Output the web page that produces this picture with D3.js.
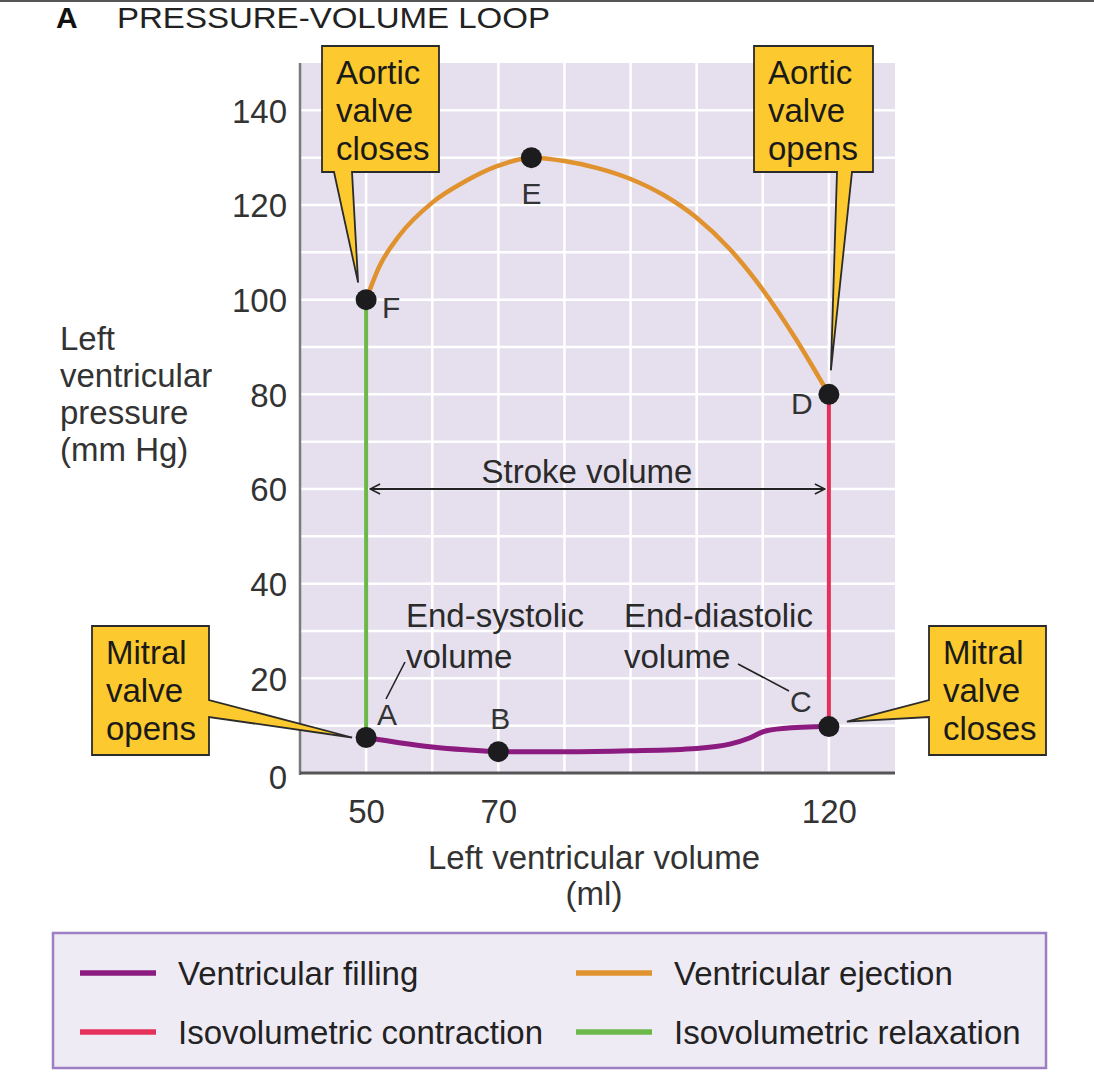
<!DOCTYPE html>
<html>
<head>
<meta charset="utf-8">
<script src="https://cdn.jsdelivr.net/npm/d3@7"></script>
<style>
  body { margin: 0; background: #fff; }
  text { font-family: "Liberation Sans", Arial, sans-serif; fill: #2a2a2a; }
</style>
</head>
<body>
<svg width="1094" height="1086"></svg>
<script>
// volume (ml) / pressure (mm Hg)
var fillingVol   = [50, 55, 60, 65, 70, 80, 90, 100, 105, 108, 110, 113, 120];
var fillingPres  = [7.5, 6.4, 5.5, 4.9, 4.5, 4.5, 4.7, 5.2, 6.1, 7.4, 8.7, 9.4, 9.8];
var ejectionVol  = [50, 52, 55, 60, 65, 70, 75, 80, 85, 90, 95, 100, 105, 110, 115, 120];
var ejectionPres = [100, 107, 113.5, 120.5, 125, 128.3, 130, 129.3, 127.8, 125.5, 122.1, 117.3, 110.7, 102.1, 91.7, 80];
var contractionVol  = [120, 120];
var contractionPres = [9.8, 80];
var relaxationVol   = [50, 50];
var relaxationPres  = [100, 7.5];

var pointNames = ["A", "B", "C", "D", "E", "F"];
var pointVol   = [50, 70, 120, 120, 75, 50];
var pointPres  = [7.5, 4.5, 9.8, 80, 130, 100];

var xTicks = [50, 70, 120];
var yTicks = [0, 20, 40, 60, 80, 100, 120, 140];
var xGrid = [50, 60, 70, 80, 90, 100, 110, 120];
var yGrid = [10, 20, 30, 40, 50, 60, 70, 80, 90, 100, 110, 120, 130, 140];

var strokeVolume = [50, 120];
var strokeVolumeLevel = 60;

var legendLabels = ["Ventricular filling", "Ventricular ejection", "Isovolumetric contraction", "Isovolumetric relaxation"];
var colors = {filling: "#8c1b80", ejection: "#e0922e", contraction: "#e5305a", relaxation: "#6cb84a"};

var FS = 33;
var svg = d3.select("svg");

var x = d3.scaleLinear().domain([40, 130]).range([300, 895]);
var y = d3.scaleLinear().domain([0, 150]).range([773, 63]);

// top rule and title
svg.append("line").attr("x1", 0).attr("x2", 1094).attr("y1", 1).attr("y2", 1)
    .attr("stroke", "#555").attr("stroke-width", 2);
svg.append("text").attr("x", 56).attr("y", 28).attr("font-size", 30).attr("font-weight", "bold")
    .style("fill", "#111").text("A");
svg.append("text").attr("x", 117).attr("y", 28).attr("font-size", 30)
    .attr("textLength", 433).attr("lengthAdjust", "spacingAndGlyphs")
    .style("fill", "#222").text("PRESSURE-VOLUME LOOP");

// plot background + grid
svg.append("rect").attr("x", x(40)).attr("y", y(150)).attr("width", x(130) - x(40))
    .attr("height", y(0) - y(150)).attr("fill", "#e6e0ee");

svg.selectAll(".gx").data(xGrid).enter().append("line")
    .attr("x1", d => x(d)).attr("x2", d => x(d)).attr("y1", y(150)).attr("y2", y(0))
    .attr("stroke", "#fff").attr("stroke-width", 2.5);
svg.selectAll(".gy").data(yGrid).enter().append("line")
    .attr("x1", x(40)).attr("x2", x(130)).attr("y1", d => y(d)).attr("y2", d => y(d))
    .attr("stroke", "#fff").attr("stroke-width", 2.5);

// axes
var yAxis = svg.append("g").attr("transform", "translate(" + x(40) + ",0)")
    .call(d3.axisLeft(y).tickValues(yTicks).tickSize(0).tickPadding(13));
yAxis.select(".domain").attr("stroke", "#7a7a7a").attr("stroke-width", 2.5)
    .attr("d", "M0," + y(150) + "V" + (y(0) + 2));
yAxis.selectAll("text").attr("font-size", FS).attr("font-family", "Liberation Sans, Arial")
    .style("fill", "#333").attr("dy", "0.36em");
yAxis.selectAll(".tick").filter(d => d === 0).select("text").attr("dy", "0.48em");

var xAxis = svg.append("g").attr("transform", "translate(0," + y(0) + ")")
    .call(d3.axisBottom(x).tickValues(xTicks).tickSize(0).tickPadding(27));
xAxis.select(".domain").attr("stroke", "#555").attr("stroke-width", 3)
    .attr("d", "M" + x(40) + ",0H" + x(130));
xAxis.selectAll("text").attr("font-size", FS).attr("font-family", "Liberation Sans, Arial")
    .style("fill", "#333");

// axis titles
var yTitle = ["Left", "ventricular", "pressure", "(mm Hg)"];
svg.selectAll(".ytitle").data(yTitle).enter().append("text")
    .attr("x", 60).attr("y", (d, i) => 350 + i * 37).attr("font-size", FS)
    .style("fill", "#333").text(d => d);
svg.append("text").attr("x", 594).attr("y", 869).attr("text-anchor", "middle")
    .attr("font-size", FS).style("fill", "#333").text("Left ventricular volume");
svg.append("text").attr("x", 594).attr("y", 905).attr("text-anchor", "middle")
    .attr("font-size", FS).style("fill", "#333").text("(ml)");

// loop segments
function pts(vs, ps) { return vs.map((v, i) => [v, ps[i]]); }
var line = d3.line().x(d => x(d[0])).y(d => y(d[1]));

svg.append("path").datum(pts(ejectionVol, ejectionPres))
    .attr("d", line.curve(d3.curveMonotoneX)).attr("fill", "none")
    .attr("stroke", colors.ejection).attr("stroke-width", 4.5);
svg.append("path").datum(pts(fillingVol, fillingPres))
    .attr("d", line.curve(d3.curveMonotoneX)).attr("fill", "none")
    .attr("stroke", colors.filling).attr("stroke-width", 5);
line.curve(d3.curveLinear);
svg.append("path").datum(pts(contractionVol, contractionPres)).attr("d", line)
    .attr("stroke", colors.contraction).attr("stroke-width", 4);
svg.append("path").datum(pts(relaxationVol, relaxationPres)).attr("d", line)
    .attr("stroke", colors.relaxation).attr("stroke-width", 4);

// stroke volume arrow
var defs = svg.append("defs");
defs.append("marker").attr("id", "chev").attr("viewBox", "0 0 12 12").attr("refX", 11).attr("refY", 6)
    .attr("markerWidth", 12).attr("markerHeight", 12).attr("markerUnits", "userSpaceOnUse")
    .attr("orient", "auto-start-reverse")
    .append("path").attr("d", "M1,1L11,6L1,11").attr("fill", "none").attr("stroke", "#222").attr("stroke-width", 1.6);
svg.append("line").attr("x1", x(strokeVolume[0]) + 4).attr("x2", x(strokeVolume[1]) - 4)
    .attr("y1", y(strokeVolumeLevel)).attr("y2", y(strokeVolumeLevel))
    .attr("stroke", "#222").attr("stroke-width", 1.8)
    .attr("marker-start", "url(#chev)").attr("marker-end", "url(#chev)");
svg.append("text").attr("x", 587).attr("y", y(strokeVolumeLevel) - 6).attr("text-anchor", "middle")
    .attr("font-size", FS).text("Stroke volume");

// end-volume annotations
svg.append("text").attr("x", 406).attr("y", 627).attr("font-size", FS).text("End-systolic");
svg.append("text").attr("x", 406).attr("y", 668).attr("font-size", FS).text("volume");
svg.append("text").attr("x", 624).attr("y", 627).attr("font-size", FS).text("End-diastolic");
svg.append("text").attr("x", 624).attr("y", 668).attr("font-size", FS).text("volume");
svg.append("line").attr("x1", 405).attr("y1", 662).attr("x2", 386).attr("y2", 699)
    .attr("stroke", "#222").attr("stroke-width", 1.6);
svg.append("line").attr("x1", 738).attr("y1", 664).attr("x2", 789).attr("y2", 691)
    .attr("stroke", "#222").attr("stroke-width", 1.6);

// points
var points = pointNames.map((n, i) => ({name: n, v: pointVol[i], p: pointPres[i]}));
svg.selectAll(".pt").data(points).enter().append("circle")
    .attr("cx", d => x(d.v)).attr("cy", d => y(d.p)).attr("r", 10.5).attr("fill", "#1c1c1e");
var labelOff = {A: [21, -23], B: [2, -34], C: [-28, -25], D: [-27, 9], E: [0, 36], F: [25, 8]};
svg.selectAll(".plab").data(points).enter().append("text")
    .attr("x", d => x(d.v) + labelOff[d.name][0]).attr("y", d => y(d.p) + labelOff[d.name][1])
    .attr("text-anchor", "middle").attr("dy", "0.36em").attr("font-size", 30)
    .style("fill", "#333").text(d => d.name);

// callouts
function callout(box, lines, tip, side, base) {
    var b = box, p;
    if (side === "bottom") {
        p = "M" + b.x0 + "," + b.y0 + "H" + b.x1 + "V" + b.y1 + "H" + base[1] + "L" + tip[0] + "," + tip[1] +
            "L" + base[0] + "," + b.y1 + "H" + b.x0 + "Z";
    } else if (side === "right") {
        p = "M" + b.x0 + "," + b.y0 + "H" + b.x1 + "V" + base[0] + "L" + tip[0] + "," + tip[1] +
            "L" + b.x1 + "," + base[1] + "V" + b.y1 + "H" + b.x0 + "Z";
    } else {
        p = "M" + b.x0 + "," + b.y0 + "H" + b.x1 + "V" + b.y1 + "H" + b.x0 + "V" + base[1] +
            "L" + tip[0] + "," + tip[1] + "L" + b.x0 + "," + base[0] + "Z";
    }
    svg.append("path").attr("d", p).attr("fill", "#fcc92e").attr("stroke", "#2b2b2b")
        .attr("stroke-width", 1.8).attr("stroke-linejoin", "miter");
    svg.selectAll(null).data(lines).enter().append("text")
        .attr("x", b.x0 + 14).attr("y", (d, i) => b.y0 + 38 + i * 38).attr("font-size", FS)
        .style("fill", "#1a1a1a").text(d => d);
}
callout({x0: 322, y0: 46, x1: 439, y1: 172}, ["Aortic", "valve", "closes"],
    [x(50) - 8, y(100) - 17], "bottom", [334, 352]);
callout({x0: 754, y0: 46, x1: 873, y1: 172}, ["Aortic", "valve", "opens"],
    [x(120) + 2, y(80) - 24], "bottom", [837, 852]);
callout({x0: 92, y0: 626, x1: 209, y1: 755}, ["Mitral", "valve", "opens"],
    [x(50) - 14, y(7.5)], "right", [700, 717]);
callout({x0: 929, y0: 626, x1: 1046, y1: 755}, ["Mitral", "valve", "closes"],
    [x(120) + 18, y(9.8) - 5], "left", [700, 717]);

// legend
svg.append("rect").attr("x", 53).attr("y", 933).attr("width", 993).attr("height", 135)
    .attr("fill", "#efebf5").attr("stroke", "#9b7fc2").attr("stroke-width", 2.5);
var legendColors = [colors.filling, colors.ejection, colors.contraction, colors.relaxation];
var legendPos = [[80, 973], [576, 973], [80, 1032], [576, 1032]];
legendLabels.forEach(function(lab, i) {
    var lp = legendPos[i];
    svg.append("line").attr("x1", lp[0]).attr("x2", lp[0] + 76).attr("y1", lp[1]).attr("y2", lp[1])
        .attr("stroke", legendColors[i]).attr("stroke-width", 5.5);
    svg.append("text").attr("x", lp[0] + 98).attr("y", lp[1]).attr("dy", "0.36em")
        .attr("font-size", FS).style("fill", "#222").text(lab);
});
</script>
</body>
</html>
